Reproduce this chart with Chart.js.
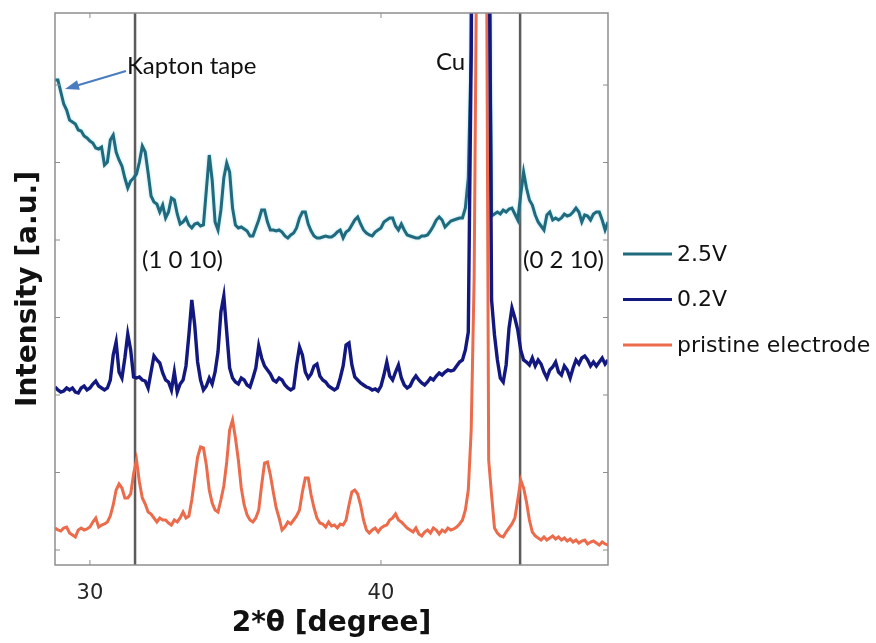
<!DOCTYPE html>
<html>
<head>
<meta charset="utf-8">
<script src="https://cdn.jsdelivr.net/npm/chart.js@4.4.1/dist/chart.umd.min.js"></script>
<style>
  html, body { margin: 0; padding: 0; background: #fff; }
  #wrap { width: 876px; height: 643px; }
</style>
</head>
<body>
<div id="wrap"><canvas id="xrdChart" width="876" height="643"></canvas></div>
<script>
// 2theta grid (degree)
var twoTheta = [
  28.8, 28.9, 29.0, 29.1, 29.2, 29.3, 29.4, 29.5, 29.6, 29.7,
  29.8, 29.9, 30.0, 30.1, 30.2, 30.3, 30.4, 30.5, 30.6, 30.7,
  30.8, 30.9, 31.0, 31.1, 31.2, 31.3, 31.4, 31.5, 31.6, 31.7,
  31.8, 31.9, 32.0, 32.1, 32.2, 32.3, 32.4, 32.5, 32.6, 32.7,
  32.8, 32.9, 33.0, 33.1, 33.2, 33.3, 33.4, 33.5, 33.6, 33.7,
  33.8, 33.9, 34.0, 34.1, 34.2, 34.3, 34.4, 34.5, 34.6, 34.7,
  34.8, 34.9, 35.0, 35.1, 35.2, 35.3, 35.4, 35.5, 35.6, 35.7,
  35.8, 35.9, 36.0, 36.1, 36.2, 36.3, 36.4, 36.5, 36.6, 36.7,
  36.8, 36.9, 37.0, 37.1, 37.2, 37.3, 37.4, 37.5, 37.6, 37.7,
  37.8, 37.9, 38.0, 38.1, 38.2, 38.3, 38.4, 38.5, 38.6, 38.7,
  38.8, 38.9, 39.0, 39.1, 39.2, 39.3, 39.4, 39.5, 39.6, 39.7,
  39.8, 39.9, 40.0, 40.1, 40.2, 40.3, 40.4, 40.5, 40.6, 40.7,
  40.8, 40.9, 41.0, 41.1, 41.2, 41.3, 41.4, 41.5, 41.6, 41.7,
  41.8, 41.9, 42.0, 42.1, 42.2, 42.3, 42.4, 42.5, 42.6, 42.7,
  42.8, 42.9, 43.0, 43.1, 43.2, 43.3, 43.4, 43.5, 43.6, 43.7,
  43.8, 43.9, 44.0, 44.1, 44.2, 44.3, 44.4, 44.5, 44.6, 44.7,
  44.8, 44.9, 45.0, 45.1, 45.2, 45.3, 45.4, 45.5, 45.6, 45.7,
  45.8, 45.9, 46.0, 46.1, 46.2, 46.3, 46.4, 46.5, 46.6, 46.7,
  46.8, 46.9, 47.0, 47.1, 47.2, 47.3, 47.4, 47.5, 47.6, 47.7,
  47.8
];

// intensities (a.u., curves already offset as in the figure)
var int25V = [
  470, 470, 458, 446, 440, 430, 428, 426, 420, 419,
  414, 412, 409, 407, 402, 401, 403, 385, 388, 410,
  415, 398, 390, 384, 372, 362, 369, 372, 376, 388,
  404, 398, 377, 354, 348, 346, 338, 345, 332, 338,
  352, 350, 336, 326, 328, 332, 325, 322, 326, 327,
  324, 325, 360, 395, 370, 328, 320, 340, 372, 387,
  378, 342, 325, 322, 323, 321, 319, 314, 314, 322,
  330, 340, 340, 328, 320, 320, 319, 320, 318, 314,
  312, 315, 317, 322, 332, 338, 338, 326, 319, 314,
  312, 312, 313, 314, 313, 313, 315, 318, 320, 312,
  318, 320, 325, 330, 333, 326, 320, 317, 315, 314,
  318, 320, 322, 328, 330, 332, 332, 324, 320, 326,
  320, 315, 314, 313, 312, 312, 314, 314, 315, 319,
  324, 330, 333, 330, 323, 326, 329, 330, 331, 332,
  332, 342, 372, 500, 1100, 1700, 2000, 1900, 1300, 700,
  334, 336, 338, 336, 340, 338, 341, 342, 336, 330,
  355, 378, 362, 350, 345, 335, 328, 324, 320, 335,
  338, 330, 332, 330, 332, 336, 334, 335, 338, 342,
  338, 328, 335, 334, 330, 336, 338, 338, 330, 320,
  328
];

var int02V = [
  163, 160, 158, 159, 162, 160, 162, 158, 157, 162,
  164, 160, 162, 166, 169, 164, 162, 160, 162, 170,
  195, 208, 178, 172, 192, 216, 200, 173, 172, 173,
  170, 169, 162, 178, 194, 190, 187, 177, 170, 168,
  160, 178, 158, 166, 170, 184, 215, 250, 225, 188,
  170, 160, 164, 172, 166, 178, 198, 238, 254, 218,
  182, 172, 168, 166, 172, 170, 165, 163, 172, 182,
  204, 192, 184, 180, 176, 170, 168, 172, 170, 165,
  162, 160, 162, 185, 203, 195, 178, 172, 176, 184,
  186, 174, 170, 168, 164, 162, 160, 162, 172, 184,
  205, 207, 185, 173, 170, 167, 165, 163, 162, 160,
  161, 159, 164, 175, 188, 174, 170, 178, 185, 172,
  165, 162, 164, 170, 174, 170, 167, 165, 168, 172,
  170, 174, 177, 175, 178, 180, 179, 180, 184, 188,
  190, 200, 218, 500, 1100, 1700, 2000, 1900, 1300, 700,
  250, 215, 190, 172, 168, 185, 222, 242, 232, 220,
  200, 190, 188, 185, 192, 184, 190, 186, 178, 172,
  180, 183, 188, 178, 175, 184, 180, 172, 182, 190,
  186, 192, 194, 190, 184, 188, 184, 188, 192, 186,
  190
];

var intPristine = [
  22, 20, 19, 22, 23, 17, 15, 13, 20, 22,
  20, 21, 23, 28, 32, 23, 25, 26, 28, 34,
  45, 60, 66, 62, 52, 52, 56, 76, 90, 68,
  52, 46, 38, 36, 32, 28, 32, 30, 30, 27,
  25, 30, 28, 32, 38, 32, 34, 50, 72, 93,
  103, 102, 85, 60, 47, 40, 38, 50, 64, 88,
  120, 130, 112, 90, 62, 45, 35, 30, 28, 32,
  40, 65, 87, 88, 75, 58, 42, 32, 20, 23,
  28, 26, 30, 34, 40, 58, 72, 72, 55, 42,
  32, 27, 26, 23, 28, 24, 25, 22, 26, 25,
  30, 45, 58, 60, 56, 45, 30, 20, 17, 20,
  22, 18, 22, 24, 25, 30, 32, 36, 30, 28,
  25, 22, 20, 18, 22, 16, 14, 18, 20, 17,
  22, 20, 16, 20, 18, 22, 20, 21, 23, 26,
  30, 40, 60, 120, 270, 650, 2500, 2400, 800, 90,
  55, 22, 17, 14, 13, 18, 22, 26, 32, 50,
  70, 62, 48, 30, 18, 14, 12, 10, 13, 10,
  12, 14, 11, 13, 10, 12, 9, 11, 8, 10,
  7, 9, 10, 6, 8, 9, 7, 5, 8, 6,
  5
];

var seriesLabels = ['2.5V', '0.2V', 'pristine electrode'];
var seriesColors = ['#1f6a7d', '#12187f', '#ec6b4b'];

var xTicks = [30, 40];
var yTicks = [0, 77.5, 155, 232.5, 310, 387.5, 465];

// reflections marked with vertical lines
var refLines = [31.55, 44.78];
var refLabels = ['(1 0 10)', '(0 2 10)'];

function toPoints(ys) {
  return ys.map(function(y, i) { return { x: twoTheta[i], y: y }; });
}

var decorPlugin = {
  id: 'xrdDecor',
  beforeDatasetsDraw: function(chart) {
    var c = chart.ctx, a = chart.chartArea, xs = chart.scales.x;
    c.save();
    c.strokeStyle = '#5c5c5c';
    c.lineWidth = 2.5;
    refLines.forEach(function(v) {
      var px = xs.getPixelForValue(v);
      c.beginPath();
      c.moveTo(px, a.top);
      c.lineTo(px, a.bottom);
      c.stroke();
    });
    c.restore();
  },
  // soft light halo around the 2.5V trace, like in the original figure
  beforeDatasetDraw: function(chart, args) {
    if (args.index === 0) {
      chart.ctx.save();
      chart.ctx.shadowColor = 'rgba(110, 200, 225, 0.55)';
      chart.ctx.shadowBlur = 3;
    }
  },
  afterDatasetDraw: function(chart, args) {
    if (args.index === 0) chart.ctx.restore();
  },
  afterDraw: function(chart) {
    var c = chart.ctx, a = chart.chartArea, xs = chart.scales.x, ys = chart.scales.y;
    c.save();

    // box + inward ticks
    c.strokeStyle = '#8e8e8e';
    c.lineWidth = 1.5;
    c.strokeRect(a.left, a.top, a.right - a.left, a.bottom - a.top);
    c.lineWidth = 1;
    c.beginPath();
    xTicks.forEach(function(v) {
      var px = xs.getPixelForValue(v);
      c.moveTo(px, a.bottom); c.lineTo(px, a.bottom - 5);
      c.moveTo(px, a.top); c.lineTo(px, a.top + 5);
    });
    yTicks.forEach(function(v) {
      var py = ys.getPixelForValue(v);
      c.moveTo(a.left, py); c.lineTo(a.left + 5, py);
      c.moveTo(a.right, py); c.lineTo(a.right - 5, py);
    });
    c.stroke();

    // annotations
    c.fillStyle = '#111';
    c.font = '24px Lato';
    c.textBaseline = 'alphabetic';
    c.textAlign = 'left';
    c.fillText('Kapton tape', 127, 74);
    c.fillText('Cu', 436, 70);
    refLines.forEach(function(v, i) {
      var px = xs.getPixelForValue(v);
      c.fillText(refLabels[i], px + (i === 0 ? 7 : 3), 268);
    });

    // arrow to the kapton hump
    c.strokeStyle = '#4a7cc0';
    c.fillStyle = '#4a7cc0';
    c.lineWidth = 2;
    var x0 = 126, y0 = 71, x1 = 65, y1 = 89;
    var ang = Math.atan2(y1 - y0, x1 - x0);
    c.beginPath();
    c.moveTo(x0, y0);
    c.lineTo(x1 - 10 * Math.cos(ang), y1 - 10 * Math.sin(ang));
    c.stroke();
    c.beginPath();
    c.moveTo(x1, y1);
    c.lineTo(x1 - 14 * Math.cos(ang) + 5 * Math.sin(ang), y1 - 14 * Math.sin(ang) - 5 * Math.cos(ang));
    c.lineTo(x1 - 14 * Math.cos(ang) - 5 * Math.sin(ang), y1 - 14 * Math.sin(ang) + 5 * Math.cos(ang));
    c.closePath();
    c.fill();

    // legend
    c.font = '22px "DejaVu Sans"';
    c.textBaseline = 'middle';
    chart.data.datasets.forEach(function(ds, i) {
      var ly = 254 + i * 45.5;
      c.strokeStyle = ds.borderColor;
      c.lineWidth = 3;
      c.beginPath();
      c.moveTo(623, ly); c.lineTo(672, ly);
      c.stroke();
      c.fillStyle = '#111';
      c.fillText(ds.label, 677, ly + 1);
    });
    c.restore();
  }
};

var ctx = document.getElementById('xrdChart').getContext('2d');
var chart = new Chart(ctx, {
  type: 'line',
  data: {
    datasets: [
      { label: seriesLabels[0], data: toPoints(int25V), borderColor: seriesColors[0], borderWidth: 3, order: 3 },
      { label: seriesLabels[1], data: toPoints(int02V), borderColor: seriesColors[1], borderWidth: 3.4, order: 1 },
      { label: seriesLabels[2], data: toPoints(intPristine), borderColor: seriesColors[2], borderWidth: 3, order: 2 }
    ]
  },
  options: {
    responsive: false,
    animation: false,
    layout: { padding: { left: 0, top: 13, right: 268, bottom: 0 } },
    elements: {
      point: { radius: 0 },
      line: { tension: 0, fill: false }
    },
    datasets: { line: { clip: 0 } },
    plugins: {
      legend: { display: false },
      tooltip: { enabled: false }
    },
    scales: {
      x: {
        type: 'linear',
        min: 28.8,
        max: 47.8,
        afterBuildTicks: function(scale) {
          scale.ticks = xTicks.map(function(v) { return { value: v }; });
        },
        afterFit: function(scale) { scale.height = 78; },
        grid: { display: false, drawTicks: false },
        border: { display: false },
        ticks: {
          autoSkip: false,
          maxRotation: 0,
          padding: 16,
          color: '#262626',
          font: { family: 'DejaVu Sans', size: 21 }
        },
        title: {
          display: true,
          text: '2*θ [degree]',
          color: '#111',
          font: { family: 'DejaVu Sans', size: 28, weight: 'bold' },
          padding: { top: 0, bottom: 2 }
        }
      },
      y: {
        min: -15,
        max: 537,
        afterBuildTicks: function(scale) {
          scale.ticks = yTicks.map(function(v) { return { value: v }; });
        },
        afterFit: function(scale) { scale.width = 55; },
        grid: { display: false, drawTicks: false },
        border: { display: false },
        ticks: { display: false },
        title: {
          display: true,
          text: 'Intensity [a.u.]',
          color: '#111',
          font: { family: 'DejaVu Sans', size: 28, weight: 'bold' },
          padding: { top: 12, bottom: 0 }
        }
      }
    }
  },
  plugins: [decorPlugin]
});
</script>
</body>
</html>
